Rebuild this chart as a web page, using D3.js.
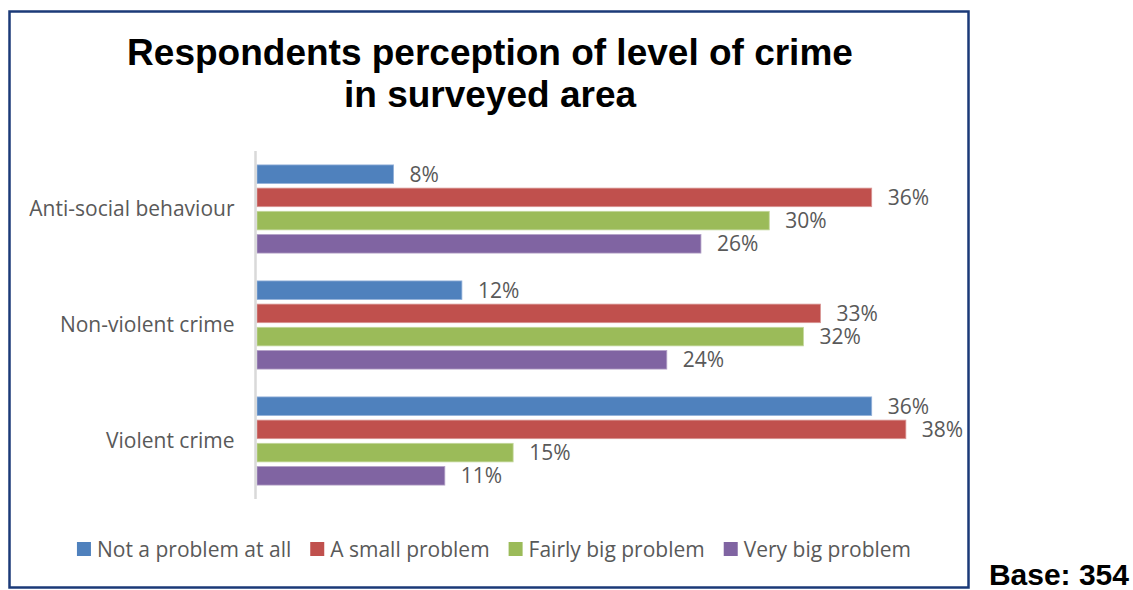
<!DOCTYPE html>
<html>
<head>
<meta charset="utf-8">
<script src="https://cdn.jsdelivr.net/npm/d3@7"></script>
<style>
  body { margin: 0; background: #fff; }
  svg { display: block; }
</style>
</head>
<body>
<div id="chart_div"></div>
<script>
// Chart data
const categories = ["Anti-social behaviour", "Non-violent crime", "Violent crime"];
const seriesNames = ["Not a problem at all", "A small problem", "Fairly big problem", "Very big problem"];
const notAProblem = [8, 12, 36];
const smallProblem = [36, 33, 38];
const fairlyBigProblem = [30, 32, 15];
const veryBigProblem = [26, 24, 11];
const titleLines = ["Respondents perception of level of crime", "in surveyed area"];
const baseText = "Base: 354";

const seriesValues = [notAProblem, smallProblem, fairlyBigProblem, veryBigProblem];
const colors = ["#4f81bd", "#c0504d", "#9bbb59", "#8064a2"];
const edges = ["#93b1d9", "#d99694", "#c3d69b", "#b3a2c7"];

const width = 1133, height = 590;
const textColor = "#595959";
const font = "'Open Sans', 'DejaVu Sans', sans-serif";

const svg = d3.select("#chart_div").append("svg")
    .attr("width", width)
    .attr("height", height);

// Frame
svg.append("rect")
    .attr("x", 9.5).attr("y", 11.5)
    .attr("width", 959).attr("height", 576)
    .attr("fill", "#fff")
    .attr("stroke", "#1b3a78")
    .attr("stroke-width", 2.5);

// Title
svg.append("text")
    .attr("x", 490)
    .attr("y", 65)
    .attr("text-anchor", "middle")
    .style("font-family", "'Liberation Sans', Arial, sans-serif")
    .style("font-weight", "bold")
    .style("font-size", "37px")
    .attr("fill", "#000")
    .selectAll("tspan")
    .data(titleLines)
    .join("tspan")
    .attr("x", 490)
    .attr("dy", (d, i) => i === 0 ? 0 : 42)
    .text(d => d);

// Scales
const plotTop = 151, plotBottom = 499;
const y = d3.scaleBand()
    .domain(categories)
    .range([plotTop, plotBottom])
    .paddingInner(0.24)
    .paddingOuter(0.12);

const ySub = d3.scaleBand()
    .domain(d3.range(seriesNames.length))
    .range([0, y.bandwidth()])
    .paddingInner(0.2)
    .paddingOuter(0);

const x = d3.scaleLinear()
    .domain([0, 40])
    .range([257, 940]);

// Bars
const rows = [];
categories.forEach((c, ci) => {
    seriesValues.forEach((vals, si) => {
        rows.push({ category: c, series: si, value: vals[ci] });
    });
});

svg.append("g")
    .selectAll("rect")
    .data(rows)
    .join("rect")
    .attr("x", x(0))
    .attr("y", d => y(d.category) + ySub(d.series))
    .attr("width", d => x(d.value) - x(0))
    .attr("height", ySub.bandwidth())
    .attr("fill", d => colors[d.series])
    .attr("stroke", d => edges[d.series])
    .attr("stroke-width", 0.8);

// Value labels
svg.append("g")
    .selectAll("text")
    .data(rows)
    .join("text")
    .attr("x", d => x(d.value) + 16)
    .attr("y", d => y(d.category) + ySub(d.series) + ySub.bandwidth() / 2)
    .attr("dy", "0.36em")
    .style("font-family", font)
    .style("font-size", "21px")
    .attr("fill", textColor)
    .text(d => d.value + "%");

// Category axis
const axis = svg.append("g")
    .attr("transform", `translate(${x(0) - 1.5},0)`)
    .call(d3.axisLeft(y).tickSize(0).tickPadding(21));
axis.select(".domain")
    .attr("d", `M0,${plotTop}V${plotBottom}`)
    .attr("stroke", "#d9d9d9")
    .attr("stroke-width", 2.5);
axis.selectAll("text")
    .style("font-family", font)
    .style("font-size", "21px")
    .attr("fill", textColor);

// Legend
const legend = svg.append("g");
const items = legend.selectAll("g")
    .data(seriesNames)
    .join("g");
items.append("rect")
    .attr("width", 14).attr("height", 14)
    .attr("y", -15)
    .attr("fill", (d, i) => colors[i]);
items.append("text")
    .attr("x", 20)
    .attr("y", 0)
    .style("font-family", font)
    .style("font-size", "21px")
    .attr("fill", textColor)
    .text(d => d);

let cursor = 0;
const offsets = [];
items.each(function () {
    offsets.push(cursor);
    const w = d3.select(this).select("text").node().getComputedTextLength();
    cursor += 20 + w + 19;
});
const legendWidth = cursor - 19;
const legendLeft = 494 - legendWidth / 2;
items.attr("transform", (d, i) => `translate(${legendLeft + offsets[i]},557)`);

// Base note
svg.append("text")
    .attr("x", 1129)
    .attr("y", 585)
    .attr("text-anchor", "end")
    .style("font-family", "'Liberation Sans', Arial, sans-serif")
    .style("font-weight", "bold")
    .style("font-size", "30px")
    .attr("fill", "#000")
    .text(baseText);
</script>
</body>
</html>
